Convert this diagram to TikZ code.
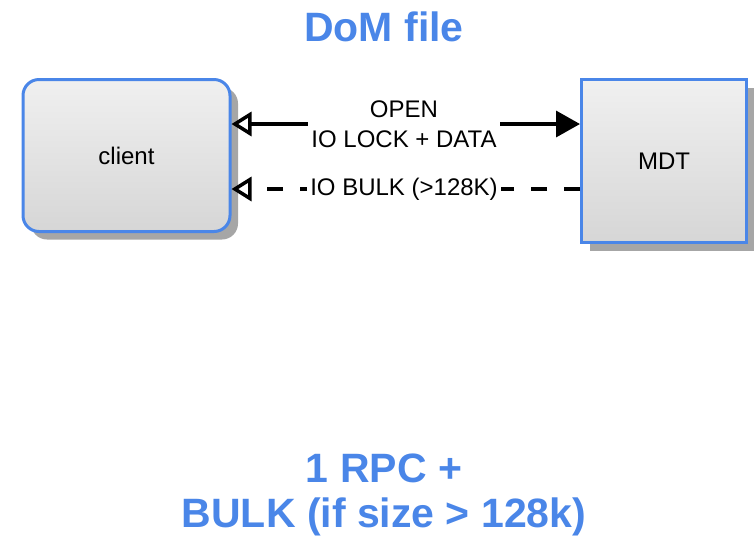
\documentclass[tikz,border=0pt]{standalone}
\usepackage{fontspec}
\setmainfont{Liberation Sans}
\usepackage{tikz}
\usetikzlibrary{arrows.meta,shadows}
\definecolor{domblue}{RGB}{74,134,232}
\definecolor{boxtop}{RGB}{240,240,240}
\definecolor{boxbot}{RGB}{214,214,214}
\tikzset{
	box/.style={draw=domblue, line width=3pt, top color=boxtop, bottom color=boxbot,
		font=\fontsize{24}{28}\selectfont,
		drop shadow={shadow xshift=8pt, shadow yshift=-8pt, fill=black!35, opacity=1}},
	msg/.style={fill=white, inner sep=3pt, align=center, font=\fontsize{24}{30}\selectfont},
	big/.style={text=domblue, align=center, font=\fontsize{41}{45}\selectfont\bfseries},
	link/.style={line width=3.5pt},
	opentip/.style={-{Triangle[open,length=20pt,width=24pt,line width=3.5pt]}},
	filltip/.style={-{Triangle[length=24pt,width=26pt]}}
}

\begin{document}
\begin{tikzpicture}[x=1pt,y=-1pt]
	\useasboundingbox (0,0) rectangle (754,542);
	%title and summary
	\node[big] (title) at (384,27) {DoM file};
	\node[big] (summary) at (384,495) {1 RPC +\\BULK (if size > 128k)};
	
	%client and MDT
	\node[box, rounded corners=16pt, minimum width=207pt, minimum height=152pt] (client) at (126.5,155.5) {client};
	\node[box, minimum width=165pt, minimum height=163pt] (MDT) at (664,161) {MDT};
	
	\coordinate (openline) at (404,124);
	\coordinate (bulkline) at (404,189);
	
	\draw[link, opentip] (openline) -- (client.east |- openline);
	\draw[link, filltip] (openline) -- (MDT.west |- openline);
	\node[msg] (open) at (openline) {OPEN\\IO LOCK + DATA};
	
	\draw[link, dash pattern=on 16pt off 17pt, opentip] (MDT.west |- bulkline) -- (client.east |- bulkline);
	\node[msg] (bulk) at (bulkline) {IO BULK (>128K)};
\end{tikzpicture}
\end{document}
